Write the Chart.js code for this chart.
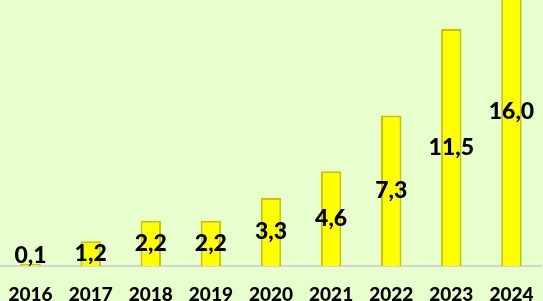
<!DOCTYPE html>
<html>
<head>
<meta charset="utf-8">
<script src="https://cdn.jsdelivr.net/npm/chart.js@4"></script>
<style>
  html, body { margin: 0; padding: 0; background: #e6ffcc; overflow: hidden; width: 543px; height: 301px; }
  #wrap { position: absolute; left: -8px; top: -43px; width: 558px; height: 349px; }
</style>
</head>
<body>
<div id="wrap"><canvas id="myChart"></canvas></div>
<script>
const years = ["2016", "2017", "2018", "2019", "2020", "2021", "2022", "2023", "2024"];
const values = [0.1, 1.2, 2.2, 2.2, 3.3, 4.6, 7.3, 11.5, 16.0];

// labels in the middle of the visible part of each bar
const barLabels = {
  id: "barLabels",
  afterDatasetsDraw(chart) {
    const ctx = chart.ctx;
    const area = chart.chartArea;
    const meta = chart.getDatasetMeta(0);
    ctx.save();
    ctx.font = "900 23px Lato";
    ctx.fillStyle = "#000";
    ctx.textAlign = "center";
    ctx.textBaseline = "middle";
    meta.data.forEach((bar, i) => {
      const top = Math.max(bar.y, area.top);
      let y = (top + bar.base) / 2;
      y = Math.min(y, bar.base - 10);
      ctx.fillText(values[i].toFixed(1).replace(".", ","), bar.x, y);
    });
    ctx.restore();
  },
};

new Chart(document.getElementById("myChart"), {
  type: "bar",
  data: {
    labels: years,
    datasets: [{
      data: values,
      backgroundColor: "#ffff00",
      borderColor: "#c8c400",
      borderWidth: 2,
      barPercentage: 0.34,
      categoryPercentage: 1,
    }],
  },
  options: {
    responsive: true,
    maintainAspectRatio: false,
    animation: false,
    layout: { padding: 0 },
    plugins: { legend: { display: false }, tooltip: { enabled: false } },
    scales: {
      x: {
        grid: { display: false, drawTicks: false },
        border: { color: "#d4d4d4", width: 2 },
        ticks: { color: "#000", font: { family: "Lato", size: 19, weight: "900" }, padding: 17, maxRotation: 0 },
        afterFit(scale) { scale.height = 40; },
      },
      y: { display: false, min: 0, max: 15 },
    },
  },
  plugins: [barLabels],
});
</script>
</body>
</html>
